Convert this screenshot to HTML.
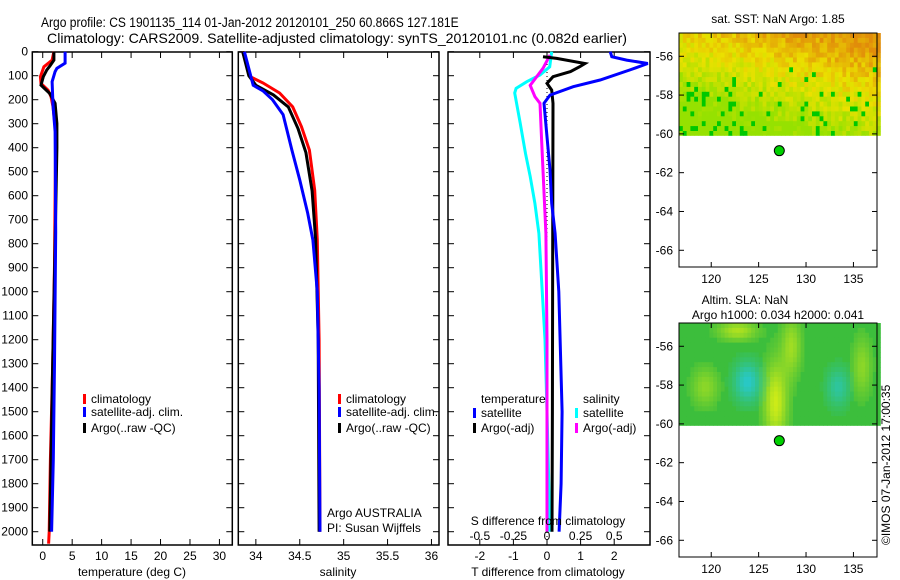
<!DOCTYPE html>
<html><head><meta charset="utf-8"><style>
html,body{margin:0;padding:0;background:#fff}
svg{display:block;font-family:"Liberation Sans",sans-serif}
text{fill:#000}
</style></head><body>
<svg id="fig" width="900" height="580" viewBox="0 0 900 580" xmlns="http://www.w3.org/2000/svg">
<text transform="translate(41,27) scale(0.86,1)" font-size="14">Argo profile: CS 1901135_114 01-Jan-2012 20120101_250 60.866S 127.181E</text>
<text x="47" y="43" font-size="14" textLength="580" lengthAdjust="spacingAndGlyphs">Climatology: CARS2009. Satellite-adjusted climatology: synTS_20120101.nc (0.082d earlier)</text>
<g id="p1"></g>
<g id="p2"></g>
<g id="p3"></g>
<g id="m1"></g>
<g id="m2"></g>
<text x="778" y="23" font-size="12" text-anchor="middle">sat. SST: NaN Argo: 1.85</text>
<text x="745" y="304" font-size="12" text-anchor="middle">Altim. SLA: NaN</text>
<text x="778" y="319" font-size="12" text-anchor="middle">Argo h1000: 0.034 h2000: 0.041</text>
<text transform="translate(890,545) rotate(-90)" font-size="12">©IMOS 07-Jan-2012 17:00:35</text>
</svg>
<script>
// ---- data ----
const depthTicks=[0,100,200,300,400,500,600,700,800,900,1000,1100,1200,1300,1400,1500,1600,1700,1800,1900,2000];
const tempTicks=[0,5,10,15,20,25,30];
const salTicks=[34,34.5,35,35.5,36];
const tdTicks=[-2,-1,0,1,2];
const sdTicks=[-0.5,-0.25,0,0.25,0.5];
const latTicks=[-56,-58,-60,-62,-64,-66];
const lonTicks=[120,125,130,135];
const tClimD=[0,35,63,104,132,160,187,229,333,890,1300,1700,2000,2050];
const tClimV=[1.9,1.6,0.2,-0.4,-0.3,0.9,1.4,1.75,2.2,2.0,1.7,1.3,1.1,1.0];
const tSatD=[0,48,69,83,125,222,333,750,1300,1700,2000];
const tSatV=[3.8,3.8,2.4,2.1,1.6,1.75,2.1,2.2,2.0,1.8,1.5];
const tArgoD=[0,35,60,76,104,139,174,215,299,400,800,1300,1700,2000];
const tArgoV=[1.9,1.9,1.2,0.7,0.1,-0.3,1.2,2.1,2.4,2.4,2.1,1.7,1.4,1.2];
const sClimD=[0,105,130,172,230,313,410,577,785,1200,2000];
const sClimV=[33.85,33.94,34.08,34.27,34.42,34.52,34.61,34.67,34.70,34.72,34.73];
const sSatD=[0,140,163,200,262,410,535,673,785,1000,1400,2000];
const sSatV=[33.87,33.97,34.08,34.19,34.31,34.41,34.50,34.59,34.65,34.70,34.72,34.73];
const sArgoD=[0,100,140,180,230,320,420,580,780,1200,2000];
const sArgoV=[33.85,33.92,34.0,34.2,34.37,34.48,34.57,34.64,34.68,34.71,34.72];
const dTSatD=[0,21,35,49,76,118,146,181,215,354,493,632,757,1000,1500,1800,2000];
const dTSatV=[1.88,1.93,2.37,3.0,2.47,1.58,0.78,0.09,-0.09,0,0.09,0.14,0.24,0.35,0.45,0.42,0.36];
const dTArgoD=[21,28,49,62,83,104,132,160,215,800,1500,2000];
const dTArgoV=[-0.12,0.29,1.13,0.98,0.7,0.18,0,0.14,0.18,0.17,0.16,0.15];
const dSSatD=[0,63,97,125,153,172,295,424,520,632,757,1200,1500,2000];
const dSSatV=[0.035,0.02,-0.052,-0.15,-0.23,-0.24,-0.2,-0.16,-0.125,-0.09,-0.06,-0.015,0,0.022];
const dSArgoD=[14,69,140,187,215,367,757,1200,2000];
const dSArgoV=[0.022,-0.03,-0.125,-0.09,-0.052,-0.04,-0.008,0,0];
const argoLon=127.181, argoLat=-60.866;

const NS="http://www.w3.org/2000/svg";
function el(parent,tag,attrs){const e=document.createElementNS(NS,tag);for(const k in attrs)e.setAttribute(k,attrs[k]);parent.appendChild(e);return e;}
const Y0=51.7, YK=0.24, TOP=52, BOT=545;
const yD=d=>Y0+YK*d;
const xT=v=>32.3+(v+1.77)*5.89;
const xS=v=>238.3+(v-33.80)*87.8;
const xTD=v=>547+v*33.6;
const xSD=v=>547+v*4*33.6;

function frame(g,x0,x1,name){
  const r=el(g,'rect',{x:x0,y:TOP,width:x1-x0,height:BOT-TOP,fill:'none',stroke:'#000','stroke-width':1.5});
  
  depthTicks.forEach(d=>{const y=yD(d);
    el(g,'line',{x1:x0,x2:x0+6,y1:y,y2:y,stroke:'#000'});
    el(g,'line',{x1:x1-6,x2:x1,y1:y,y2:y,stroke:'#000'});});
}
function xticks(g,ticks,fx,labels,ly){
  ticks.forEach((v,i)=>{const x=fx(v);
    el(g,'line',{x1:x,x2:x,y1:BOT-6,y2:BOT,stroke:'#000'});
    el(g,'line',{x1:x,x2:x,y1:TOP,y2:TOP+6,stroke:'#000'});
    if(labels){const t=el(g,'text',{x:x,y:ly,'font-size':12,'text-anchor':'middle'});t.textContent=labels[i];
      }
  });
}
function line(g,D,V,fx,color,name,w){
  const pts=D.map((d,i)=>fx(V[i]).toFixed(1)+','+yD(d).toFixed(1)).join(' ');
  const p=el(g,'polyline',{points:pts,fill:'none',stroke:color,'stroke-width':w||3,'stroke-linejoin':'miter'});
  
}
function legend(g,x,y,color,label,name){
  el(g,'rect',{x:x,y:y-9,width:3,height:10,fill:color});
  const t=el(g,'text',{x:x+8,y:y,'font-size':12});t.textContent=label;
  
}
// panel 1
const p1=document.getElementById('p1');
frame(p1,32.3,232.3,'temperature-panel');
depthTicks.forEach(d=>{const t=el(p1,'text',{x:28,y:yD(d)+4,'font-size':12,'text-anchor':'end'});t.textContent=d;
  });
xticks(p1,tempTicks,xT,tempTicks.map(String),560);
line(p1,tClimD,tClimV,xT,'#f00','temperature-climatology-line');
line(p1,tArgoD,tArgoV,xT,'#000','temperature-argo-line');
line(p1,tSatD,tSatV,xT,'#00f','temperature-satellite-line');
{const t=el(p1,'text',{x:132,y:576,'font-size':12,'text-anchor':'middle'});t.textContent='temperature (deg C)';}
legend(p1,83,403,'#f00','climatology','legend-climatology');
legend(p1,83,416,'#00f','satellite-adj. clim.','legend-satellite');
legend(p1,83,432,'#000','Argo(..raw -QC)','legend-argo');
// panel 2
const p2=document.getElementById('p2');
frame(p2,238.3,439,'salinity-panel');
xticks(p2,salTicks,xS,['34','34.5','35','35.5','36'],560);
line(p2,sClimD,sClimV,xS,'#f00','salinity-climatology-line');
line(p2,sArgoD,sArgoV,xS,'#000','salinity-argo-line');
line(p2,sSatD,sSatV,xS,'#00f','salinity-satellite-line');
{const t=el(p2,'text',{x:338,y:576,'font-size':12,'text-anchor':'middle'});t.textContent='salinity';}
legend(p2,338,403,'#f00','climatology','legend-climatology');
legend(p2,338,416,'#00f','satellite-adj. clim.','legend-satellite');
legend(p2,338,432,'#000','Argo(..raw -QC)','legend-argo');
{const t=el(p2,'text',{x:327,y:517,'font-size':12});t.textContent='Argo AUSTRALIA';
 const t2=el(p2,'text',{x:327,y:532,'font-size':12});t2.textContent='PI: Susan Wijffels';}
// panel 3
const p3=document.getElementById('p3');
frame(p3,448,650,'difference-panel');
xticks(p3,tdTicks,xTD,tdTicks.map(String),560);
el(p3,'line',{x1:xTD(0),x2:xTD(0),y1:TOP,y2:BOT,stroke:'#000','stroke-dasharray':'1,3'});
line(p3,dSSatD,dSSatV,xSD,'#0ff','salinity-satellite-diff-line');
line(p3,dSArgoD,dSArgoV,xSD,'#f0f','salinity-argo-diff-line');
line(p3,dTArgoD,dTArgoV,xTD,'#000','temperature-argo-diff-line');
line(p3,dTSatD,dTSatV,xTD,'#00f','temperature-satellite-diff-line');
sdTicks.forEach((v,i)=>{const t=el(p3,'text',{x:xSD(v),y:540,'font-size':12,'text-anchor':'middle'});t.textContent=['-0.5','-0.25','0','0.25','0.5'][i];
  });
{const t=el(p3,'text',{x:548,y:525,'font-size':12,'text-anchor':'middle'});t.textContent='S difference from climatology';
 const t2=el(p3,'text',{x:548,y:576,'font-size':12,'text-anchor':'middle'});t2.textContent='T difference from climatology';
 const a=el(p3,'text',{x:481,y:403,'font-size':12});a.textContent='temperature';
 const b=el(p3,'text',{x:583,y:403,'font-size':12});b.textContent='salinity';}
legend(p3,473,417,'#00f','satellite','legend-temp-satellite');
legend(p3,473,432,'#000','Argo(-adj)','legend-temp-argo');
legend(p3,575,417,'#0ff','satellite','legend-sal-satellite');
legend(p3,575,432,'#f0f','Argo(-adj)','legend-sal-argo');
// maps
function hash(i,j,s){let h=(i*374761393+j*668265263+s*2147483647)|0;h=(h^(h>>>13))*1274126177|0;return ((h^(h>>>16))>>>0)/4294967296;}
function lerpC(a,b,t){return a.map((v,k)=>Math.round(v+(b[k]-v)*t));}
function map(id,y0,fill,name){
  const g=document.getElementById(id);
  const X0=679,X1=877,Y1=y0+234;
  const xL=lon=>X0+(lon-116.6)*9.48, yL=lat=>y0+(-54.8-lat)*19.4;
  const cw=3.8, ch=4.9, nx=Math.ceil((X1-X0)/cw), ny=Math.ceil((yL(-60.1)-y0)/ch);
  for(let j=0;j<ny;j++)for(let i=0;i<nx;i++){
    const c=fill(i/nx,j/ny,i,j);
    el(g,'rect',{x:(X0+i*cw).toFixed(1),y:(y0+j*ch).toFixed(1),width:cw+0.4,height:Math.min(ch+0.4,yL(-60.1)-(y0+j*ch)),fill:'rgb('+c.join(',')+')'});
  }
  const f=el(g,'rect',{x:X0,y:y0,width:X1-X0,height:Y1-y0,fill:'none',stroke:'#000'});
  
  latTicks.forEach(l=>{const y=yL(l);el(g,'line',{x1:X0,x2:X0+5,y1:y,y2:y,stroke:'#000'});el(g,'line',{x1:X1-5,x2:X1,y1:y,y2:y,stroke:'#000'});
    const t=el(g,'text',{x:673,y:y+4,'font-size':12,'text-anchor':'end'});t.textContent=l;});
  lonTicks.forEach(l=>{const x=xL(l);el(g,'line',{x1:x,x2:x,y1:Y1-5,y2:Y1,stroke:'#000'});el(g,'line',{x1:x,x2:x,y1:y0,y2:y0+5,stroke:'#000'});
    const t=el(g,'text',{x:x,y:Y1+16,'font-size':12,'text-anchor':'middle'});t.textContent=l;});
  const c=el(g,'circle',{cx:xL(argoLon),cy:yL(argoLat),r:5,fill:'#00d000',stroke:'#000','stroke-width':1});
  
}
map('m1',33,(u,v,i,j)=>{
  const warm=Math.max(0,Math.min(1,(1-v)*0.9+u*0.5-0.35+(hash(i,j,1)-0.5)*0.35));
  let c=warm>0.5?lerpC([235,225,0],[225,140,10],(warm-0.5)*2):lerpC([150,225,0],[235,225,0],warm*2);
  if(hash(i,j,2)<(v*v*0.25)*(1-u*0.6))c=[0,200,0];
  return c;
},'sst-map');
map('m2',323,(u,v,i,j)=>{
  const bump=(cu,cv,su,sv)=>Math.exp(-(((u-cu)/su)**2+((v-cv)/sv)**2));
  const hi=bump(0.47,0.75,0.06,0.4)*0.9+bump(0.55,0.2,0.05,0.3)*0.6+bump(0.12,0.6,0.07,0.2)*0.5+bump(0.28,0.05,0.1,0.1)*0.7+bump(0.9,0.4,0.05,0.3)*0.5;
  const lo=bump(0.33,0.55,0.07,0.2)*1.0+bump(0.78,0.6,0.06,0.2)*0.7;
  let c=[60,190,60];
  if(hi>0.1)c=lerpC(c,[220,240,20],Math.min(1,hi));
  if(lo>0.1)c=lerpC(c,[40,200,200],Math.min(1,lo));
  return c;
},'sla-map');
</script>
</body></html>
